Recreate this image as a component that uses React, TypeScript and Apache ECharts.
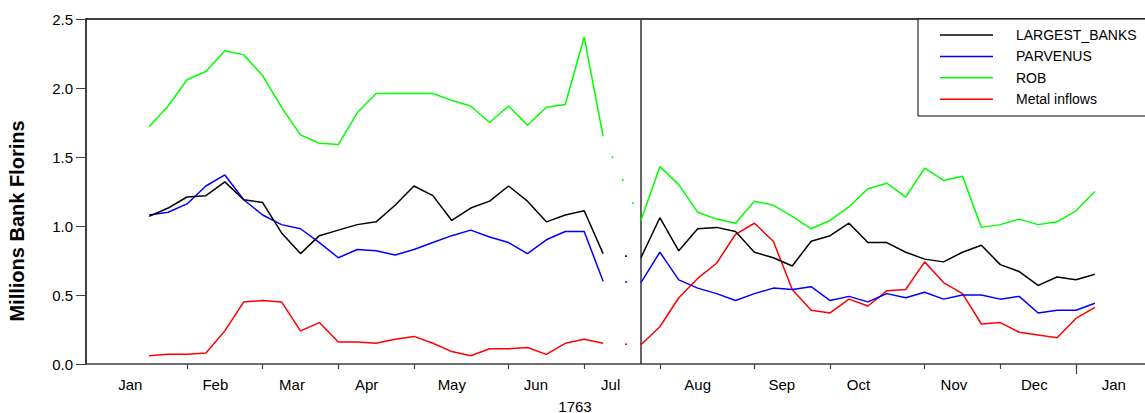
import React, { useEffect, useRef } from 'react';
import * as echarts from 'echarts';

// Series names and colours
const seriesNames = ['LARGEST_BANKS', 'PARVENUS', 'ROB', 'Metal inflows'];
const seriesColors = ['#000000', '#0000ff', '#00ff00', '#ff0000'];

// Weekly values (week index 0..24, gap at 25, then 26..50), millions of bank florins
const largestBanksH1 = [1.07, 1.13, 1.21, 1.22, 1.32, 1.19, 1.17, 0.95, 0.80, 0.93, 0.97, 1.01, 1.03, 1.15, 1.29, 1.22, 1.04, 1.13, 1.18, 1.29, 1.18, 1.03, 1.08, 1.11, 0.80];
const largestBanksH2 = [0.77, 1.06, 0.82, 0.98, 0.99, 0.96, 0.81, 0.77, 0.71, 0.89, 0.93, 1.02, 0.88, 0.88, 0.81, 0.76, 0.74, 0.81, 0.86, 0.72, 0.67, 0.57, 0.63, 0.61, 0.65];
const parvenusH1 = [1.08, 1.10, 1.16, 1.29, 1.37, 1.19, 1.08, 1.01, 0.98, 0.88, 0.77, 0.83, 0.82, 0.79, 0.83, 0.88, 0.93, 0.97, 0.92, 0.88, 0.80, 0.90, 0.96, 0.96, 0.60];
const parvenusH2 = [0.59, 0.81, 0.61, 0.55, 0.51, 0.46, 0.51, 0.55, 0.54, 0.56, 0.46, 0.49, 0.45, 0.51, 0.48, 0.52, 0.47, 0.50, 0.50, 0.47, 0.49, 0.37, 0.39, 0.39, 0.44];
const robH1 = [1.72, 1.87, 2.06, 2.12, 2.27, 2.24, 2.09, 1.86, 1.66, 1.60, 1.59, 1.82, 1.96, 1.96, 1.96, 1.96, 1.91, 1.87, 1.75, 1.87, 1.73, 1.86, 1.88, 2.37, 1.65];
const robH2 = [1.04, 1.43, 1.30, 1.10, 1.05, 1.02, 1.18, 1.15, 1.07, 0.98, 1.04, 1.14, 1.27, 1.31, 1.21, 1.42, 1.33, 1.36, 0.99, 1.01, 1.05, 1.01, 1.03, 1.11, 1.25];
const metalH1 = [0.06, 0.07, 0.07, 0.08, 0.24, 0.45, 0.46, 0.45, 0.24, 0.30, 0.16, 0.16, 0.15, 0.18, 0.20, 0.15, 0.09, 0.06, 0.11, 0.11, 0.12, 0.07, 0.15, 0.18, 0.15];
const metalH2 = [0.14, 0.27, 0.48, 0.62, 0.73, 0.94, 1.02, 0.89, 0.54, 0.39, 0.37, 0.47, 0.42, 0.53, 0.54, 0.74, 0.59, 0.51, 0.29, 0.30, 0.23, 0.21, 0.19, 0.33, 0.41];

// X axis (week index) ticks and labels
const monthBoundaries = [2, 6, 10, 14, 19, 23, 27, 32, 36, 41, 45, 49];
const yearBoundary = [49];
const monthLabelPos = [-1.0, 3.5, 7.55, 11.5, 16.0, 20.45, 24.4, 29.0, 33.45, 37.5, 42.55, 46.8, 51.0];
const monthLabels = ['Jan', 'Feb', 'Mar', 'Apr', 'May', 'Jun', 'Jul', 'Aug', 'Sep', 'Oct', 'Nov', 'Dec', 'Jan'];
const breakWeek = 26;
const gapFrom = 24;
const xMin = -3.34;
const xMax = 52.65;
const yearLabel = '1763';
const yTitle = 'Millions Bank Florins';
const yTicks = [0, 0.5, 1.0, 1.5, 2.0, 2.5];

const FONT = '"Liberation Sans", Arial, sans-serif';

export default function App() {
  const ref = useRef<HTMLDivElement>(null);
  useEffect(() => {
    if (!ref.current) return;
    const chart = echarts.init(ref.current, undefined, { renderer: 'svg' });
    const halves = [
      [largestBanksH1, largestBanksH2],
      [parvenusH1, parvenusH2],
      [robH1, robH2],
      [metalH1, metalH2],
    ];
    const full = halves.map(([a, b]) => [...a, null, ...b] as (number | null)[]);

    const series: any[] = [];
    full.forEach((vals, k) => {
      series.push({
        name: seriesNames[k],
        type: 'line',
        data: vals.map((v, i) => [i, v]),
        showSymbol: false,
        symbol: 'none',
        connectNulls: false,
        lineStyle: { color: seriesColors[k], width: 1.5 },
        itemStyle: { color: seriesColors[k] },
        z: 10 - k,
        markLine:
          k === 0
            ? {
                silent: true,
                symbol: ['none', 'none'],
                label: { show: false },
                lineStyle: { color: '#333333', width: 1.5, type: 'solid' },
                data: [{ xAxis: breakWeek }],
              }
            : undefined,
      });
      series.push({
        name: seriesNames[k] + ' gap',
        type: 'line',
        data: [
          [gapFrom, vals[gapFrom]],
          [breakWeek, vals[breakWeek]],
        ],
        showSymbol: false,
        symbol: 'none',
        lineStyle: { color: seriesColors[k], width: 1.6, type: [2, 23], dashOffset: 3 },
        z: 5,
      });
    });

    const legendTop = 19;
    const graphic: any[] = [
      {
        type: 'text',
        x: 17,
        y: 221,
        rotation: Math.PI / 2,
        style: {
          text: yTitle,
          font: `bold 20px ${FONT}`,
          fill: '#000',
          textAlign: 'center',
          textVerticalAlign: 'middle',
        },
      },
      {
        type: 'text',
        x: 575,
        y: 406,
        style: {
          text: yearLabel,
          font: `15px ${FONT}`,
          fill: '#000',
          textAlign: 'center',
          textVerticalAlign: 'middle',
        },
      },
      {
        type: 'rect',
        shape: { x: 918, y: legendTop, width: 260, height: 97 },
        style: { fill: '#ffffff', stroke: '#000000', lineWidth: 1 },
        z: 50,
      },
    ];
    seriesNames.forEach((n, k) => {
      const y = 35 + k * 21.4;
      graphic.push({
        type: 'line',
        shape: { x1: 940, y1: y, x2: 993, y2: y },
        style: { stroke: seriesColors[k], lineWidth: 1.5 },
        z: 51,
      });
      graphic.push({
        type: 'text',
        x: 1016,
        y,
        style: {
          text: n,
          font: `14px ${FONT}`,
          fill: '#000',
          textAlign: 'left',
          textVerticalAlign: 'middle',
        },
        z: 51,
      });
    });

    chart.setOption({
      animation: false,
      backgroundColor: '#ffffff',
      grid: {
        left: 86,
        right: 0,
        top: 19,
        bottom: 49,
      },
      xAxis: [
        {
          type: 'value',
          min: xMin,
          max: xMax,
          position: 'bottom',
          axisLine: { show: true, onZero: false, lineStyle: { color: '#404040', width: 1.5 } },
          axisTick: { show: true, customValues: monthBoundaries, length: 5, lineStyle: { color: '#404040', width: 1.2 } },
          axisLabel: {
            show: true,
            customValues: monthLabelPos,
            formatter: (v: number) => {
              const idx = monthLabelPos.findIndex((p) => Math.abs(p - v) < 1e-6);
              return idx >= 0 ? monthLabels[idx] : '';
            },
            fontSize: 15,
            fontFamily: FONT,
            color: '#000',
            margin: 13,
          },
          splitLine: { show: false },
        },
        {
          type: 'value',
          min: xMin,
          max: xMax,
          position: 'bottom',
          axisLine: { show: false, onZero: false },
          axisTick: { show: true, customValues: yearBoundary, length: 10, lineStyle: { color: '#404040', width: 1.2 } },
          axisLabel: { show: false },
          splitLine: { show: false },
        },
        {
          type: 'value',
          min: xMin,
          max: xMax,
          position: 'top',
          axisLine: { show: true, onZero: false, lineStyle: { color: '#000', width: 1.5 } },
          axisTick: { show: false },
          axisLabel: { show: false },
          splitLine: { show: false },
        },
      ],
      yAxis: {
        type: 'value',
        min: 0,
        max: 2.5,
        interval: 0.5,
        axisLine: { show: true, onZero: false, lineStyle: { color: '#000', width: 1.5 } },
        axisTick: { show: true, length: 10, lineStyle: { color: '#404040' } },
        axisLabel: {
          fontSize: 15,
          fontFamily: FONT,
          color: '#000',
          margin: 13,
          formatter: (v: number) => (yTicks.includes(v) ? v.toFixed(1) : ''),
        },
        splitLine: { show: false },
      },
      series,
      graphic,
    });
    return () => chart.dispose();
  }, []);
  return (
    <div
      ref={ref}
      style={{ position: 'fixed', left: 0, top: 0, width: 1145, height: 413, background: '#fff' }}
    />
  );
}
